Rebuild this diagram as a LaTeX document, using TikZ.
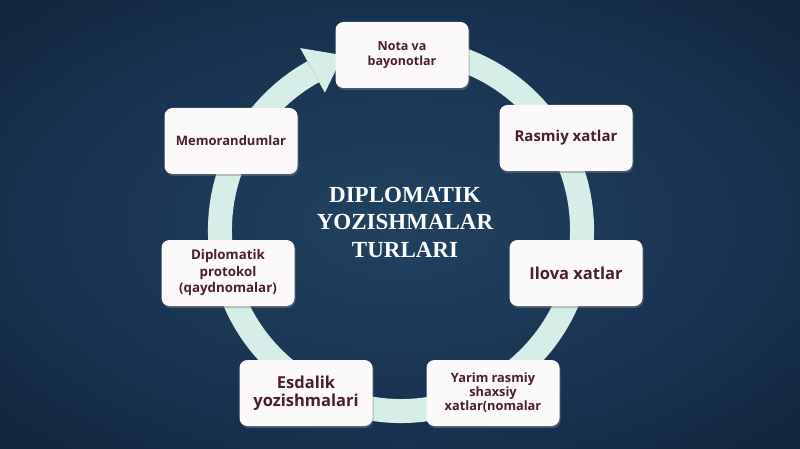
\documentclass[tikz,border=0pt]{standalone}
\usepackage{fontspec}
\setmainfont{Open Sans}
\newfontfamily\titlefont{Liberation Serif}
\usetikzlibrary{shadows,calc}
\definecolor{bgin}{HTML}{21425F}
\definecolor{bgmid}{HTML}{183250}
\definecolor{bgout}{HTML}{0B1622}
\definecolor{ringcol}{HTML}{D6EEE7}
\definecolor{boxtext}{HTML}{4B1E2B}
\definecolor{boxfill}{HTML}{FBF9F9}
\pgfdeclareradialshading{bgshade}{\pgfpoint{0bp}{0bp}}{color(0bp)=(bgin); color(22bp)=(bgmid); color(52bp)=(bgout); color(100bp)=(bgout)}
\tikzset{
  itembox/.style={fill=boxfill, rounded corners=8pt, minimum width=133pt, minimum height=66pt,
    align=center, text=boxtext, font=\bfseries, inner sep=2pt,
    drop shadow={opacity=0.45, shadow xshift=1pt, shadow yshift=-2pt}},
  ringline/.style={draw=ringcol, line width=24pt},
}
\begin{document}
\begin{tikzpicture}[x=1pt,y=1pt]
\useasboundingbox (0,0) rectangle (800,-449);
\shade[shading=bgshade] (0,0) rectangle (800,-449);
\coordinate (C) at (401,-230);
% ring
\draw[ringline] ($(C)+(72:181)$) arc[start angle=72, end angle=-241, radius=181];
\begin{scope}[shift={(C)}, rotate=119]
  \fill[ringcol] (157,0) -- (208,0) -- (181,-34) -- cycle;
\end{scope}
% title
\node[text=white, font=\titlefont\bfseries\fontsize{23}{27.5}\selectfont, align=center] (title) at (405,-222)
  {DIPLOMATIK\\YOZISHMALAR\\TURLARI};
% boxes
\node[itembox, font=\bfseries\fontsize{12.5}{15}\selectfont] (nota) at (402,-55) {Nota va\\bayonotlar};
\node[itembox, font=\bfseries\fontsize{15}{16}\selectfont] (rasmiy) at (566,-138) {Rasmiy xatlar};
\node[itembox, font=\bfseries\fontsize{16.5}{18}\selectfont] (ilova) at (576,-273) {Ilova xatlar};
\node[itembox, font=\bfseries\fontsize{12.8}{14}\selectfont] (yarim) at (493,-393) {Yarim rasmiy\\shaxsiy\\xatlar(nomalar};
\node[itembox, font=\bfseries\fontsize{16.5}{18}\selectfont] (esdalik) at (306,-393) {Esdalik\\yozishmalari};
\node[itembox, font=\bfseries\fontsize{13.3}{16.5}\selectfont] (dipl) at (228,-273) {Diplomatik\\protokol\\(qaydnomalar)};
\node[itembox, font=\bfseries\fontsize{13}{16}\selectfont] (memo) at (231,-141) {Memorandumlar};
\end{tikzpicture}
\end{document}
